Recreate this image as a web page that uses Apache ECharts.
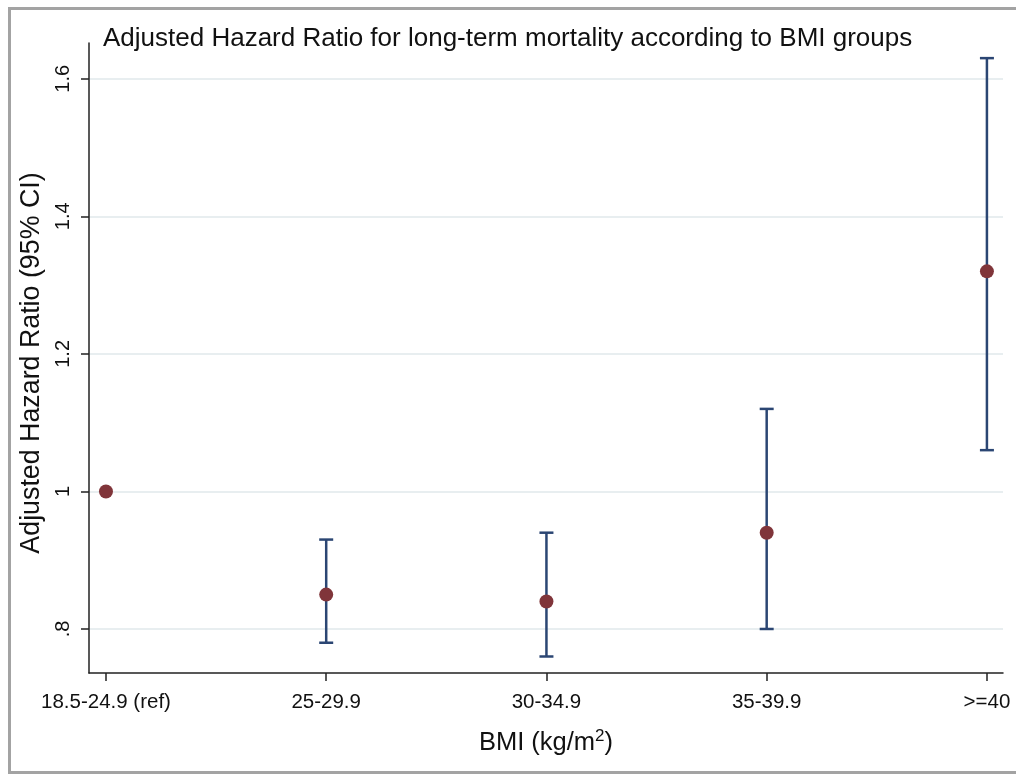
<!DOCTYPE html>
<html>
<head>
<meta charset="utf-8">
<script src="https://cdn.jsdelivr.net/npm/echarts@6/dist/echarts.min.js"></script>
<style>
  html, body { margin: 0; padding: 0; background: #fff; }
  #chart { width: 1016px; height: 775px; }
</style>
</head>
<body>
<div id="chart"></div>
<script>
const categories = ['18.5-24.9 (ref)', '25-29.9', '30-34.9', '35-39.9', '>=40']
const hazardRatio = [1.0, 0.85, 0.84, 0.94, 1.32]
const ciLower = [null, 0.78, 0.76, 0.80, 1.06]
const ciUpper = [null, 0.93, 0.94, 1.12, 1.63]
const yTickValues = [0.8, 1.0, 1.2, 1.4, 1.6]
const yTickLabels = ['.8', '1', '1.2', '1.4', '1.6']

const font = 'Liberation Sans, Arial, Helvetica, sans-serif'
const pointData = hazardRatio.map((v, i) => [i, v])
const ciData = categories.map((c, i) => [i, ciLower[i], ciUpper[i]]).filter(d => d[1] != null)

const myChart = echarts.init(document.getElementById('chart'))
myChart.setOption({
  backgroundColor: '#fff',
  animation: false,
  textStyle: { fontFamily: font },
  graphic: [
    {
      type: 'rect',
      shape: { x: 9.5, y: 8.5, width: 1030, height: 764 },
      style: { fill: 'none', stroke: '#a3a3a3', lineWidth: 3 },
      silent: true
    }
  ],
  title: {
    text: 'Adjusted Hazard Ratio for long-term mortality according to BMI groups',
    left: 98,
    top: 21,
    textStyle: { fontFamily: font, fontSize: 26, fontWeight: 'normal', color: '#111' }
  },
  grid: { left: 89, right: 13, top: 43, bottom: 102 },
  xAxis: {
    type: 'value',
    min: -0.077,
    max: 4.073,
    name: 'BMI (kg/m{sup|2})',
    nameLocation: 'middle',
    nameGap: 55,
    nameTextStyle: {
      fontFamily: font, fontSize: 25.5, color: '#111',
      rich: { sup: { fontFamily: font, fontSize: 17, verticalAlign: 'bottom', padding: [0, 0, 13, 0], color: '#111' } }
    },
    axisLine: { show: true, onZero: false, lineStyle: { color: '#222', width: 1.5 } },
    axisTick: { show: true, length: 8, customValues: [0, 1, 2, 3, 4], lineStyle: { color: '#222', width: 1.5 } },
    axisLabel: {
      customValues: [0, 1, 2, 3, 4],
      formatter: v => categories[Math.round(v)],
      fontFamily: font, fontSize: 20.5, color: '#111', margin: 19
    },
    splitLine: { show: false }
  },
  yAxis: {
    type: 'value',
    min: 0.736,
    max: 1.652,
    name: 'Adjusted Hazard Ratio (95% CI)',
    nameLocation: 'middle',
    nameGap: 40,
    nameTextStyle: { fontFamily: font, fontSize: 26.8, color: '#111', padding: [0, 10, 0, 0] },
    axisLine: { show: true, onZero: false, lineStyle: { color: '#222', width: 1.5 } },
    axisTick: { show: true, length: 8, customValues: yTickValues, lineStyle: { color: '#222', width: 1.5 } },
    axisLabel: {
      customValues: yTickValues,
      rotate: 90,
      formatter: v => yTickLabels[yTickValues.findIndex(t => Math.abs(t - v) < 1e-6)] || '',
      fontFamily: font, fontSize: 20, color: '#111', margin: 16
    },
    splitLine: {
      show: true,
      showMinLine: true,
      showMaxLine: true,
      lineStyle: { color: '#e8eef0', width: 2 }
    }
  },
  series: [
    {
      type: 'custom',
      data: ciData,
      z: 2,
      renderItem: (params, api) => {
        const x = api.value(0)
        const lo = api.coord([x, api.value(1)])
        const hi = api.coord([x, api.value(2)])
        const half = 7
        const style = { stroke: '#2b4673', lineWidth: 2.5, fill: 'none' }
        return {
          type: 'group',
          children: [
            { type: 'line', shape: { x1: hi[0], y1: hi[1], x2: lo[0], y2: lo[1] }, style },
            { type: 'line', shape: { x1: hi[0] - half, y1: hi[1], x2: hi[0] + half, y2: hi[1] }, style },
            { type: 'line', shape: { x1: lo[0] - half, y1: lo[1], x2: lo[0] + half, y2: lo[1] }, style }
          ]
        }
      }
    },
    {
      type: 'scatter',
      data: pointData,
      symbol: 'circle',
      symbolSize: 14,
      itemStyle: { color: '#80353a', opacity: 1 },
      z: 3
    }
  ]
})
</script>
</body>
</html>
